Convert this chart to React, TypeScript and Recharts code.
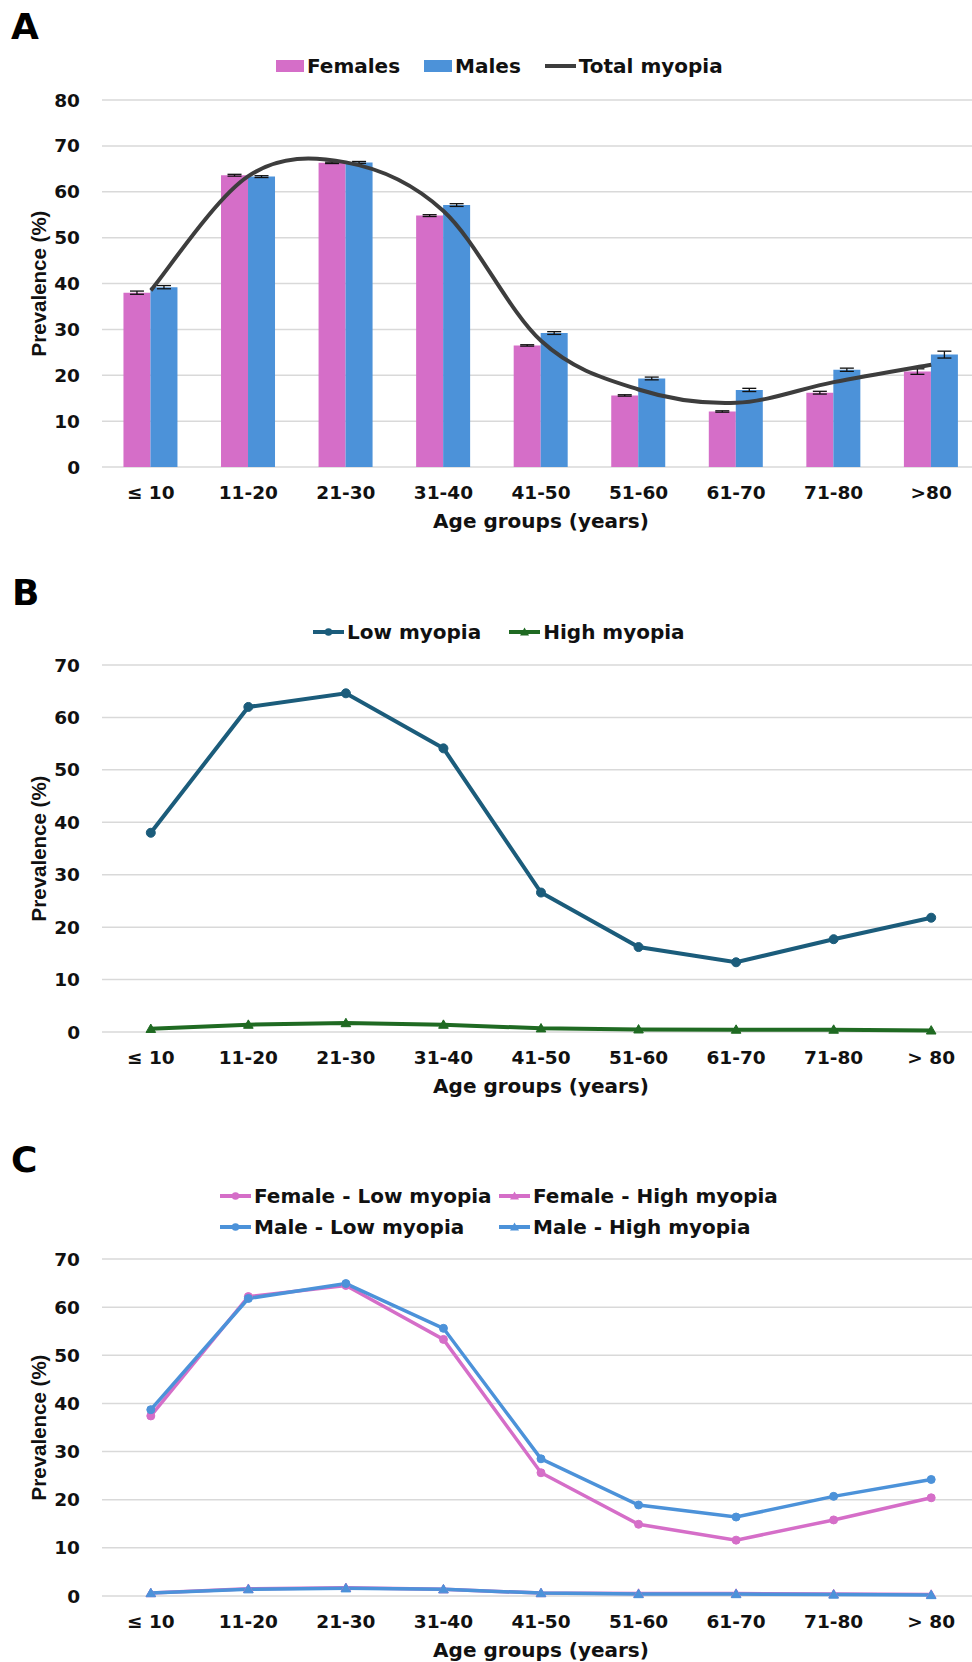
import React from 'react';
import { ComposedChart, Bar, Line, XAxis, YAxis, CartesianGrid, ErrorBar } from 'recharts';

const AGE_GROUPS_A = ['≤ 10', '11-20', '21-30', '31-40', '41-50', '51-60', '61-70', '71-80', '>80'];
const AGE_GROUPS = ['≤ 10', '11-20', '21-30', '31-40', '41-50', '51-60', '61-70', '71-80', '> 80'];

// panel A
const FEMALES = [38.0, 63.6, 66.3, 54.8, 26.5, 15.6, 12.1, 16.2, 20.8];
const FEMALES_ERR = [0.35, 0.2, 0.15, 0.2, 0.15, 0.15, 0.15, 0.3, 0.6];
const MALES = [39.2, 63.3, 66.4, 57.1, 29.2, 19.3, 16.8, 21.2, 24.5];
const MALES_ERR = [0.35, 0.2, 0.2, 0.3, 0.3, 0.3, 0.35, 0.35, 0.75];
const TOTAL = [38.5, 63.4, 66.4, 55.8, 27.5, 16.9, 14.0, 18.5, 22.3];

// panel B
const LOW = [38.0, 62.0, 64.6, 54.1, 26.6, 16.2, 13.3, 17.7, 21.8];
const HIGH = [0.6, 1.4, 1.7, 1.4, 0.7, 0.5, 0.45, 0.45, 0.3];

// panel C
const F_LOW = [37.4, 62.2, 64.5, 53.3, 25.6, 14.9, 11.6, 15.8, 20.4];
const F_HIGH = [0.6, 1.5, 1.7, 1.4, 0.6, 0.5, 0.5, 0.4, 0.3];
const M_LOW = [38.7, 61.8, 64.9, 55.6, 28.5, 18.9, 16.4, 20.7, 24.2];
const M_HIGH = [0.6, 1.4, 1.6, 1.4, 0.6, 0.4, 0.4, 0.3, 0.2];

const TICKS_A = [0, 10, 20, 30, 40, 50, 60, 70, 80];
const TICKS_BC = [0, 10, 20, 30, 40, 50, 60, 70];

const PINK = '#D56EC8';
const BLUE = '#4C92D9';
const DARK = '#3d3d3d';
const TEAL = '#1B5C7B';
const GREEN = '#1F6A22';
const FONT = '"DejaVu Sans", sans-serif';

const dataA = AGE_GROUPS_A.map((age, i) => ({
  age,
  females: FEMALES[i],
  femalesErr: FEMALES_ERR[i],
  males: MALES[i],
  malesErr: MALES_ERR[i],
  total: TOTAL[i],
}));
const dataB = AGE_GROUPS.map((age, i) => ({ age, low: LOW[i], high: HIGH[i] }));
const dataC = AGE_GROUPS.map((age, i) => ({
  age, fLow: F_LOW[i], fHigh: F_HIGH[i], mLow: M_LOW[i], mHigh: M_HIGH[i],
}));

// excel-like smoothed line (uniform catmull-rom as bezier)
const smoothCurve = (context: any) => {
  let pts: number[][] = [];
  return {
    areaStart() {},
    areaEnd() {},
    lineStart() { pts = []; },
    point(x: number, y: number) { pts.push([+x, +y]); },
    lineEnd() {
      if (!pts.length) return;
      context.moveTo(pts[0][0], pts[0][1]);
      for (let i = 0; i < pts.length - 1; i++) {
        const p0 = pts[i - 1] || pts[i];
        const p1 = pts[i];
        const p2 = pts[i + 1];
        const p3 = pts[i + 2] || p2;
        context.bezierCurveTo(
          p1[0] + (p2[0] - p0[0]) / 6, p1[1] + (p2[1] - p0[1]) / 6,
          p2[0] - (p3[0] - p1[0]) / 6, p2[1] - (p3[1] - p1[1]) / 6,
          p2[0], p2[1],
        );
      }
    },
  };
};

const circleDot = (color: string, r = 4.2) => (props: any) => {
  const { cx, cy, index } = props;
  if (cx == null || cy == null) return <g key={`c-${index}`} />;
  return <circle key={`c-${index}`} cx={cx} cy={cy} r={r} fill={color} stroke={color} />;
};

const triangleDot = (color: string, s = 4.8) => (props: any) => {
  const { cx, cy, index } = props;
  if (cx == null || cy == null) return <g key={`t-${index}`} />;
  return (
    <path
      key={`t-${index}`}
      d={`M${cx},${cy - s} L${cx + s},${cy + s * 0.75} L${cx - s},${cy + s * 0.75} Z`}
      fill={color}
      stroke={color}
    />
  );
};

const tickStyle = { fontSize: 18.5, fontWeight: 700, fill: '#111', fontFamily: FONT };

const axes = (ticks: number[], pointPadding: boolean) => [
  <CartesianGrid key="g" vertical={false} stroke="#d9d9d9" strokeWidth={1.5} />,
  <XAxis
    key="x"
    dataKey="age"
    axisLine={false}
    tickLine={false}
    tickSize={0}
    tickMargin={19}
    height={40}
    interval={0}
    tick={tickStyle}
    padding={pointPadding ? { left: 48.8, right: 48.8 } : undefined}
  />,
  <YAxis
    key="y"
    width={102}
    domain={[0, ticks[ticks.length - 1]]}
    ticks={ticks}
    interval={0}
    axisLine={false}
    tickLine={false}
    tickSize={0}
    tickMargin={22}
    tick={tickStyle}
  />,
];

const LineIcon = ({ color, marker }: { color: string; marker: 'circle' | 'triangle' }) => (
  <svg width={31} height={14} style={{ display: 'block' }}>
    <line x1={0} y1={7} x2={31} y2={7} stroke={color} strokeWidth={4} />
    {marker === 'circle' ? (
      <circle cx={15.5} cy={7} r={3.8} fill={color} />
    ) : (
      <path d="M15.5,2.5 L20,10.5 L11,10.5 Z" fill={color} />
    )}
  </svg>
);

const legendText: React.CSSProperties = {
  fontFamily: FONT, fontSize: 20, fontWeight: 700, color: '#111', lineHeight: '24px', whiteSpace: 'nowrap',
};

const Item = ({ icon, label }: { icon: React.ReactNode; label: string }) => (
  <div style={{ display: 'flex', alignItems: 'center' }}>
    {icon}
    <span style={{ ...legendText, marginLeft: 3 }}>{label}</span>
  </div>
);

const Swatch = ({ color }: { color: string }) => (
  <div style={{ width: 28, height: 12, background: color }} />
);

export default function App() {
  return (
    <div style={{ position: 'absolute', left: 0, top: 0, width: 972, height: 1662, overflow: 'hidden', background: '#fff' }}>
      {/* A */}
      <div style={{ position: 'absolute', left: 0, top: 0 }}>
        <ComposedChart width={990} height={507} data={dataA} margin={{ top: 100, right: 10, bottom: 0, left: 0 }}
          barCategoryGap="22%" barGap={0}>
          {axes(TICKS_A, false)}
          <Bar dataKey="females" fill={PINK} isAnimationActive={false}>
            <ErrorBar dataKey="femalesErr" width={7} strokeWidth={1.3} stroke="#111" />
          </Bar>
          <Bar dataKey="males" fill={BLUE} isAnimationActive={false}>
            <ErrorBar dataKey="malesErr" width={7} strokeWidth={1.3} stroke="#111" />
          </Bar>
          <Line dataKey="total" type={smoothCurve as any} stroke={DARK} strokeWidth={4} dot={false} isAnimationActive={false} />
        </ComposedChart>
      </div>

      {/* B */}
      <div style={{ position: 'absolute', left: 0, top: 600 }}>
        <ComposedChart width={990} height={472} data={dataB} margin={{ top: 65, right: 10, bottom: 0, left: 0 }}>
          {axes(TICKS_BC, true)}
          <Line dataKey="low" type="linear" stroke={TEAL} strokeWidth={4} dot={circleDot(TEAL, 4.5)} isAnimationActive={false} />
          <Line dataKey="high" type="linear" stroke={GREEN} strokeWidth={4} dot={triangleDot(GREEN)} isAnimationActive={false} />
        </ComposedChart>
      </div>

      {/* C */}
      <div style={{ position: 'absolute', left: 0, top: 1200 }}>
        <ComposedChart width={990} height={436} data={dataC} margin={{ top: 59, right: 10, bottom: 0, left: 0 }}>
          {axes(TICKS_BC, true)}
          <Line dataKey="fLow" type="linear" stroke={PINK} strokeWidth={3.5} dot={circleDot(PINK, 4)} isAnimationActive={false} />
          <Line dataKey="fHigh" type="linear" stroke={PINK} strokeWidth={3.5} dot={triangleDot(PINK)} isAnimationActive={false} />
          <Line dataKey="mLow" type="linear" stroke={BLUE} strokeWidth={3.5} dot={circleDot(BLUE, 4)} isAnimationActive={false} />
          <Line dataKey="mHigh" type="linear" stroke={BLUE} strokeWidth={3.5} dot={triangleDot(BLUE)} isAnimationActive={false} />
        </ComposedChart>
      </div>

      {/* legends */}
      <div style={{ position: 'absolute', left: 276, top: 54, display: 'flex', gap: 24 }}>
        <Item icon={<Swatch color={PINK} />} label="Females" />
        <Item icon={<Swatch color={BLUE} />} label="Males" />
        <Item icon={<svg width={31} height={14} style={{ display: 'block' }}><line x1={0} y1={7} x2={31} y2={7} stroke={DARK} strokeWidth={4} /></svg>} label="Total myopia" />
      </div>
      <div style={{ position: 'absolute', left: 313, top: 620, display: 'flex', gap: 28 }}>
        <Item icon={<LineIcon color={TEAL} marker="circle" />} label="Low myopia" />
        <Item icon={<LineIcon color={GREEN} marker="triangle" />} label="High myopia" />
      </div>
      <div style={{ position: 'absolute', left: 220, top: 1184, display: 'grid', gridTemplateColumns: '279px auto', rowGap: 7 }}>
        <Item icon={<LineIcon color={PINK} marker="circle" />} label="Female - Low myopia" />
        <Item icon={<LineIcon color={PINK} marker="triangle" />} label="Female - High myopia" />
        <Item icon={<LineIcon color={BLUE} marker="circle" />} label="Male - Low myopia" />
        <Item icon={<LineIcon color={BLUE} marker="triangle" />} label="Male - High myopia" />
      </div>

      {/* panel letters and axis titles */}
      <svg width={972} height={1662} style={{ position: 'absolute', left: 0, top: 0, pointerEvents: 'none' }}>
        <g fontFamily={FONT} fontWeight={700} fill="#000">
          <text x={11} y={39} fontSize={36}>A</text>
          <text x={12} y={605} fontSize={36}>B</text>
          <text x={11} y={1172} fontSize={36}>C</text>
          {[528, 1093, 1657].map((y) => (
            <text key={y} x={541} y={y} fontSize={20} textAnchor="middle" fill="#111">Age groups (years)</text>
          ))}
        </g>
        <g fontFamily='"Liberation Sans", Arial, sans-serif' fontWeight={700} fill="#111" fontSize={20.5}>
          {[283.5, 848.5, 1427.5].map((y) => (
            <text key={y} x={45.5} y={y} textAnchor="middle" transform={`rotate(-90 45.5 ${y})`}>Prevalence (%)</text>
          ))}
        </g>
      </svg>
    </div>
  );
}
